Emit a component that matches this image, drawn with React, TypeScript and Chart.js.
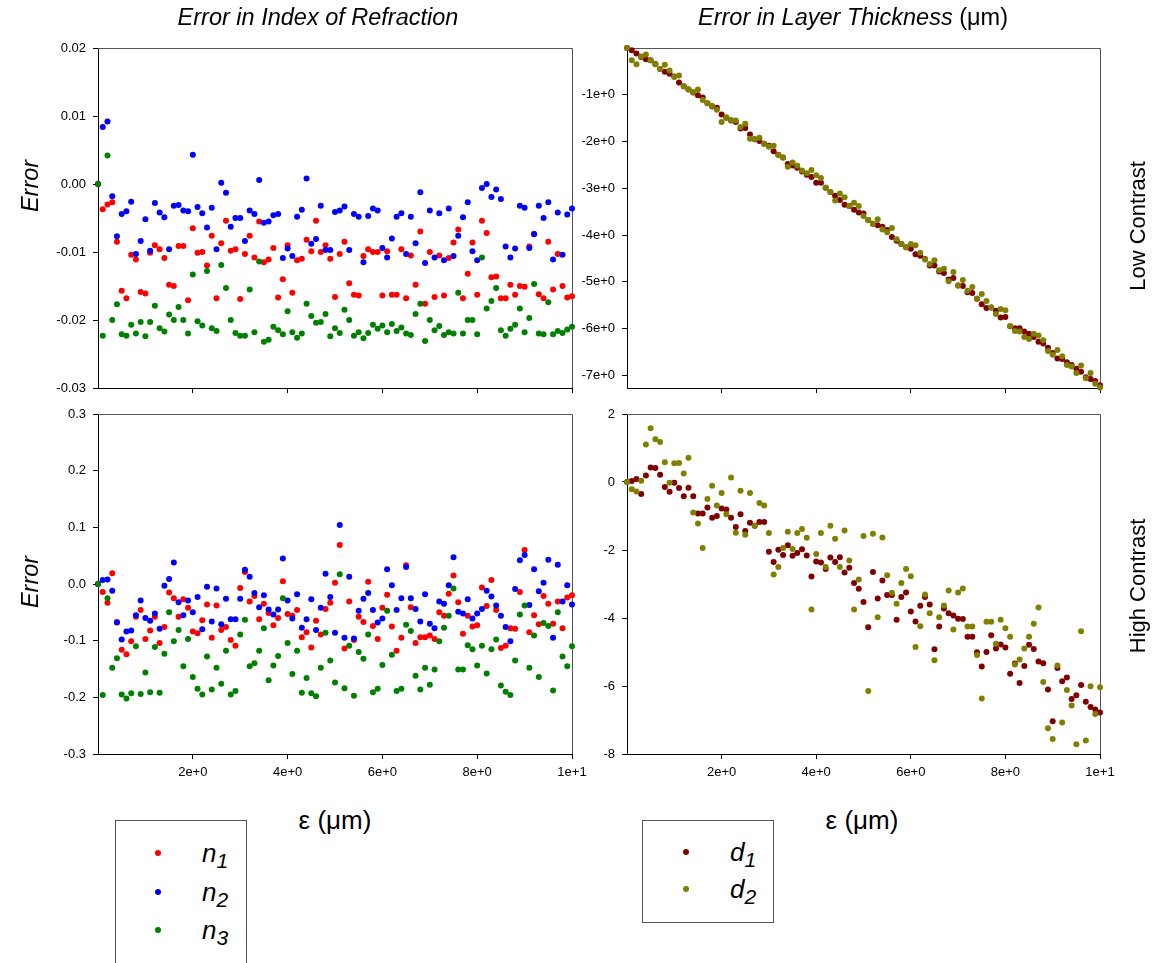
import React, { useEffect, useRef } from "react";
import { Chart, registerables } from "chart.js";

Chart.register(...registerables);

// ε (µm) grid
const EPS = [
  0, 0.1, 0.2, 0.3, 0.4, 0.5, 0.6, 0.7, 0.8, 0.9,
  1, 1.1, 1.2, 1.3, 1.4, 1.5, 1.6, 1.7, 1.8, 1.9,
  2, 2.1, 2.2, 2.3, 2.4, 2.5, 2.6, 2.7, 2.8, 2.9,
  3, 3.1, 3.2, 3.3, 3.4, 3.5, 3.6, 3.7, 3.8, 3.9,
  4, 4.1, 4.2, 4.3, 4.4, 4.5, 4.6, 4.7, 4.8, 4.9,
  5, 5.1, 5.2, 5.3, 5.4, 5.5, 5.6, 5.7, 5.8, 5.9,
  6, 6.1, 6.2, 6.3, 6.4, 6.5, 6.6, 6.7, 6.8, 6.9,
  7, 7.1, 7.2, 7.3, 7.4, 7.5, 7.6, 7.7, 7.8, 7.9,
  8, 8.1, 8.2, 8.3, 8.4, 8.5, 8.6, 8.7, 8.8, 8.9,
  9, 9.1, 9.2, 9.3, 9.4, 9.5, 9.6, 9.7, 9.8, 9.9,
  10,
];

// Low contrast – index of refraction error
const lowN1 = [
  0, -0.0037, -0.0030, -0.0027, -0.0085, -0.0157, -0.0168, -0.0104, -0.0111, -0.0159,
  -0.0161, -0.0101, -0.0090, -0.0096, -0.0109, -0.0148, -0.0150, -0.0091, -0.0091, -0.0171,
  -0.0065, -0.0101, -0.0100, -0.0120, -0.0076, -0.0168, -0.0087, -0.0054, -0.0098, -0.0096,
  -0.0169, -0.0103, -0.0076, -0.0108, -0.0055, -0.0115, -0.0111, -0.0094, -0.0167, -0.0140,
  -0.0090, -0.0160, -0.0112, -0.0110, -0.0082, -0.0099, -0.0054, -0.0100, -0.0090, -0.0110,
  -0.0166, -0.0103, -0.0085, -0.0146, -0.0163, -0.0164, -0.0106, -0.0096, -0.0100, -0.0100,
  -0.0164, -0.0099, -0.0163, -0.0163, -0.0096, -0.0168, -0.0105, -0.0148, -0.0070, -0.0176,
  -0.0100, -0.0166, -0.0105, -0.0164, -0.0109, -0.0086, -0.0067, -0.0168, -0.0132, -0.0086,
  -0.0163, -0.0054, -0.0072, -0.0137, -0.0136, -0.0168, -0.0168, -0.0148, -0.0163, -0.0150,
  -0.0151, -0.0092, -0.0073, -0.0162, -0.0168, -0.0085, -0.0155, -0.0103, -0.0150, -0.0167,
  -0.0165,
];
const lowN2 = [
  0, 0.0084, 0.0092, -0.0018, -0.0077, -0.0044, -0.0040, -0.0026, -0.0103, -0.0084,
  -0.0052, -0.0098, -0.0028, -0.0042, -0.0049, -0.0096, -0.0032, -0.0031, -0.0039, -0.0040,
  0.0043, -0.0034, -0.0043, -0.0064, -0.0035, -0.0096, 0.0002, -0.0013, -0.0063, -0.0050,
  -0.0050, -0.0084, -0.0039, -0.0044, 0.0006, -0.0057, -0.0055, -0.0046, -0.0044, -0.0109,
  -0.0095, -0.0106, -0.0048, -0.0038, 0.0008, -0.0088, -0.0081, -0.0032, -0.0097, -0.0097,
  -0.0041, -0.0039, -0.0033, -0.0097, -0.0044, -0.0048, -0.0115, -0.0047, -0.0036, -0.0039,
  -0.0094, -0.0108, -0.0080, -0.0048, -0.0043, -0.0103, -0.0048, -0.0087, -0.0012, -0.0116,
  -0.0039, -0.0108, -0.0043, -0.0112, -0.0036, -0.0106, -0.0076, -0.0049, -0.0027, -0.0099,
  -0.0112, -0.0006, 0.0000, -0.0019, -0.0008, -0.0022, -0.0092, -0.0108, -0.0095, -0.0032,
  -0.0035, -0.0094, -0.0074, -0.0032, -0.0050, -0.0027, -0.0111, -0.0042, -0.0104, -0.0045,
  -0.0036,
];
const lowN3 = [
  0, -0.0223, 0.0042, -0.0200, -0.0177, -0.0221, -0.0223, -0.0207, -0.0220, -0.0203,
  -0.0224, -0.0203, -0.0179, -0.0212, -0.0217, -0.0192, -0.0200, -0.0181, -0.0200, -0.0220,
  -0.0133, -0.0202, -0.0208, -0.0128, -0.0212, -0.0216, -0.0119, -0.0153, -0.0200, -0.0219,
  -0.0223, -0.0223, -0.0155, -0.0218, -0.0114, -0.0232, -0.0229, -0.0210, -0.0215, -0.0221,
  -0.0187, -0.0218, -0.0226, -0.0220, -0.0176, -0.0194, -0.0204, -0.0203, -0.0191, -0.0224,
  -0.0212, -0.0219, -0.0185, -0.0200, -0.0223, -0.0218, -0.0227, -0.0219, -0.0207, -0.0213,
  -0.0208, -0.0218, -0.0206, -0.0216, -0.0211, -0.0220, -0.0222, -0.0191, -0.0176, -0.0231,
  -0.0200, -0.0215, -0.0209, -0.0222, -0.0218, -0.0220, -0.0160, -0.0220, -0.0200, -0.0200,
  -0.0221, -0.0108, -0.0183, -0.0172, -0.0153, -0.0215, -0.0223, -0.0213, -0.0207, -0.0183,
  -0.0218, -0.0197, -0.0147, -0.0220, -0.0221, -0.0174, -0.0221, -0.0216, -0.0219, -0.0214,
  -0.0210,
];

// High contrast – index of refraction error
const highN1 = [
  0, -0.014, -0.033, 0.019, -0.067, -0.116, -0.124, -0.101, -0.058, -0.046,
  -0.097, -0.082, -0.058, -0.104, -0.076, -0.015, -0.025, -0.058, -0.027, -0.042,
  -0.084, -0.087, -0.064, -0.036, -0.095, -0.038, -0.081, -0.076, -0.099, -0.109,
  -0.007, 0.021, -0.031, -0.021, -0.062, -0.035, -0.051, -0.073, -0.060, 0.005,
  -0.053, -0.056, -0.046, -0.094, -0.085, -0.112, -0.065, -0.089, -0.044, -0.033,
  0.002, 0.069, -0.114, -0.031, -0.099, -0.058, -0.067, 0.004, -0.074, -0.097,
  -0.042, -0.019, -0.075, -0.118, -0.095, 0.033, -0.041, -0.104, -0.094, -0.094,
  -0.091, -0.097, -0.050, -0.056, -0.017, 0.015, -0.032, -0.088, -0.056, -0.075,
  -0.073, -0.006, -0.039, 0.007, -0.046, -0.113, -0.109, -0.078, -0.079, -0.014,
  0.060, -0.085, -0.055, -0.071, -0.021, -0.035, -0.070, -0.031, -0.078, -0.024,
  -0.020,
];
const highN2 = [
  0, 0.007, 0.008, -0.012, -0.068, -0.098, -0.084, -0.082, -0.055, -0.029,
  -0.060, -0.065, -0.052, -0.079, -0.003, 0.009, 0.038, -0.032, -0.055, -0.029,
  -0.050, -0.023, -0.080, -0.005, -0.066, -0.008, -0.071, -0.026, -0.062, -0.062,
  -0.026, 0.025, 0.013, -0.016, -0.041, -0.020, -0.045, -0.054, -0.045, 0.045,
  -0.029, -0.061, -0.018, -0.077, -0.062, -0.027, -0.081, -0.042, 0.018, -0.023,
  -0.086, 0.104, -0.095, 0.013, -0.096, -0.047, -0.026, -0.016, -0.046, -0.068,
  -0.061, 0.026, -0.002, -0.046, -0.025, 0.030, -0.025, -0.044, -0.066, -0.018,
  -0.070, -0.078, -0.031, -0.035, -0.002, 0.047, -0.049, -0.052, -0.027, -0.061,
  -0.052, -0.044, -0.012, -0.022, -0.038, -0.056, -0.076, -0.101, -0.009, 0.042,
  0.051, -0.037, 0.026, -0.013, 0.002, 0.043, -0.095, 0.034, -0.031, -0.002,
  -0.036,
];
const highN3 = [
  0, -0.196, -0.025, -0.148, -0.131, -0.195, -0.202, -0.193, -0.110, -0.194,
  -0.156, -0.191, -0.111, -0.192, -0.123, -0.050, -0.101, -0.081, -0.145, -0.097,
  -0.164, -0.185, -0.195, -0.128, -0.186, -0.148, -0.176, -0.118, -0.195, -0.189,
  -0.089, -0.063, -0.145, -0.140, -0.118, -0.078, -0.170, -0.144, -0.127, -0.025,
  -0.104, -0.159, -0.118, -0.192, -0.166, -0.193, -0.198, -0.148, -0.086, -0.135,
  -0.174, 0.017, -0.184, -0.109, -0.197, -0.120, -0.132, -0.089, -0.191, -0.185,
  -0.143, -0.047, -0.125, -0.189, -0.185, -0.072, -0.083, -0.162, -0.186, -0.148,
  -0.178, -0.151, -0.101, -0.077, -0.056, -0.008, -0.151, -0.151, -0.108, -0.115,
  -0.144, -0.109, -0.158, -0.115, -0.098, -0.179, -0.190, -0.196, -0.135, -0.054,
  -0.038, -0.148, -0.091, -0.164, -0.069, -0.074, -0.188, -0.050, -0.128, -0.145,
  -0.110,
];

// Low contrast – layer thickness error (µm)
const lowD1 = [
  0, -0.05, -0.12, -0.19, -0.24, -0.26, -0.34, -0.45, -0.51, -0.55,
  -0.61, -0.74, -0.82, -0.89, -0.95, -1.01, -1.06, -1.18, -1.25, -1.28,
  -1.42, -1.49, -1.55, -1.58, -1.72, -1.71, -1.85, -1.95, -1.99, -2.05,
  -2.09, -2.21, -2.28, -2.34, -2.48, -2.51, -2.56, -2.64, -2.71, -2.76,
  -2.88, -2.88, -2.99, -3.08, -3.16, -3.25, -3.35, -3.38, -3.46, -3.52,
  -3.54, -3.68, -3.76, -3.79, -3.82, -3.89, -4.04, -4.12, -4.19, -4.26,
  -4.29, -4.41, -4.44, -4.51, -4.65, -4.65, -4.78, -4.81, -4.95, -4.92,
  -5.08, -5.09, -5.22, -5.24, -5.36, -5.48, -5.56, -5.55, -5.62, -5.76,
  -5.75, -5.95, -5.99, -5.99, -6.06, -6.11, -6.18, -6.28, -6.32, -6.41,
  -6.52, -6.64, -6.65, -6.72, -6.78, -6.86, -6.92, -7.04, -7.08, -7.12,
  -7.21,
];
const lowD2 = [
  0, -0.26, -0.35, -0.18, -0.14, -0.26, -0.35, -0.45, -0.36, -0.48,
  -0.62, -0.59, -0.82, -0.88, -0.94, -0.89, -1.11, -1.18, -1.24, -1.32,
  -1.58, -1.48, -1.54, -1.55, -1.69, -1.62, -1.94, -1.95, -1.92, -2.05,
  -2.11, -2.09, -2.29, -2.34, -2.54, -2.45, -2.52, -2.62, -2.68, -2.61,
  -2.72, -2.78, -2.99, -3.08, -3.26, -3.11, -3.19, -3.38, -3.31, -3.38,
  -3.59, -3.68, -3.76, -3.66, -3.88, -3.94, -3.85, -4.09, -4.19, -4.26,
  -4.19, -4.22, -4.38, -4.52, -4.62, -4.54, -4.75, -4.72, -4.99, -4.79,
  -5.08, -4.96, -5.19, -5.11, -5.36, -5.26, -5.41, -5.55, -5.69, -5.58,
  -5.61, -5.95, -6.05, -6.06, -6.18, -6.22, -6.11, -6.15, -6.25, -6.48,
  -6.56, -6.46, -6.59, -6.78, -6.81, -6.95, -6.79, -7.06, -6.95, -7.18,
  -7.26,
];

// High contrast – layer thickness error (µm)
const highD1 = [
  0, 0.03, 0.09, -0.35, 0.19, 0.43, 0.41, 0.21, -0.15, -0.29,
  -0.02, -0.18, -0.42, -0.17, -0.42, -0.93, -0.93, -0.75, -1.05, -1.00,
  -0.78, -0.81, -1.05, -1.32, -0.95, -1.44, -1.20, -1.29, -1.18, -1.18,
  -2.05, -2.35, -1.99, -2.15, -1.86, -2.17, -2.09, -1.98, -2.16, -2.78,
  -2.34, -2.37, -2.56, -2.22, -2.35, -2.21, -2.66, -2.52, -2.97, -3.14,
  -3.53, -4.27, -2.65, -3.43, -2.90, -3.32, -3.32, -4.05, -3.38, -3.25,
  -3.81, -4.10, -3.64, -3.38, -3.60, -4.92, -4.25, -3.72, -3.86, -3.93,
  -4.02, -4.03, -4.55, -4.55, -5.01, -5.43, -5.00, -4.51, -4.90, -4.78,
  -4.87, -5.64, -5.34, -5.91, -5.41, -4.79, -4.91, -5.28, -5.33, -6.10,
  -7.04, -5.47, -5.86, -5.75, -6.38, -6.27, -5.97, -6.46, -6.62, -6.69,
  -6.78,
];
const highD2 = [
  0, -0.21, -0.28, 0.04, 1.10, 1.58, 1.26, 1.18, 0.58, -0.02,
  0.55, 0.56, 0.25, 0.71, -0.90, -1.22, -1.94, -0.50, -0.11, -0.69,
  -0.32, -0.95, 0.13, -1.49, -0.26, -1.55, -0.32, -1.29, -0.62, -0.69,
  -1.50, -2.72, -2.50, -1.94, -1.46, -1.97, -1.50, -1.38, -1.64, -3.75,
  -2.12, -1.50, -2.50, -1.29, -1.67, -2.50, -1.43, -2.31, -3.75, -2.87,
  -1.59, -6.15, -1.52, -3.98, -1.63, -2.74, -3.26, -3.58, -2.97, -2.56,
  -2.77, -4.85, -4.24, -3.31, -3.86, -5.24, -3.98, -3.63, -3.19, -4.34,
  -3.25, -3.13, -4.25, -4.25, -5.09, -6.37, -4.11, -4.11, -4.76, -4.05,
  -4.30, -4.55, -5.37, -5.22, -4.90, -4.55, -4.17, -3.69, -5.88, -7.24,
  -7.56, -5.40, -7.07, -6.12, -6.57, -7.71, -4.39, -7.60, -6.01, -6.82,
  -6.04,
];

// Tick values
const X_TICKS = [2, 4, 6, 8, 10];
const Y_TICKS_LOW_N = [-0.03, -0.02, -0.01, 0, 0.01, 0.02];
const Y_TICKS_HIGH_N = [-0.3, -0.2, -0.1, 0, 0.1, 0.2, 0.3];
const Y_TICKS_LOW_D = [-7, -6, -5, -4, -3, -2, -1];
const Y_TICKS_HIGH_D = [-8, -6, -4, -2, 0, 2];

const C_N1 = "#ff0000";
const C_N2 = "#0000ff";
const C_N3 = "#008000";
const C_D1 = "#800000";
const C_D2 = "#808000";

const FONT = '"Liberation Sans", Arial, Helvetica, sans-serif';

type Series = { data: number[]; color: string; order: number };
type PanelDef = {
  left: number;
  top: number;
  width: number;
  height: number;
  yMin: number;
  yMax: number;
  yTicks: number[];
  yFmt: (v: number) => string;
  showX: boolean;
  series: Series[];
};

const PAD_L = 70;
const PAD_T = 20;
const PAD_R = 24;
const PAD_B = 40;

const framePlugin = {
  id: "frameBox",
  beforeDatasetsDraw(chart: any) {
    const { ctx, chartArea: a } = chart;
    ctx.save();
    ctx.strokeStyle = "#555";
    ctx.lineWidth = 1;
    ctx.beginPath();
    ctx.moveTo(Math.round(a.left), Math.round(a.top) + 0.5);
    ctx.lineTo(Math.round(a.right) + 0.5, Math.round(a.top) + 0.5);
    ctx.lineTo(Math.round(a.right) + 0.5, Math.round(a.bottom));
    ctx.stroke();
    ctx.restore();
  },
};

function xLabel(v: number): string {
  if (v === 10) return "1e+1";
  return `${v}e+0`;
}

function ScatterPanel({ p }: { p: PanelDef }) {
  const ref = useRef<HTMLCanvasElement | null>(null);
  const cw = PAD_L + p.width + PAD_R;
  const ch = PAD_T + p.height + PAD_B;
  useEffect(() => {
    if (!ref.current) return;
    const axisGrid = {
      display: true,
      drawOnChartArea: false,
      drawTicks: true,
      tickLength: 5,
      color: "#000",
      lineWidth: 1,
    };
    const chart = new Chart(ref.current, {
      type: "scatter",
      data: {
        datasets: p.series.map((s) => ({
          data: EPS.map((x, i) => ({ x, y: s.data[i] })),
          backgroundColor: s.color,
          borderColor: s.color,
          borderWidth: 0,
          pointRadius: 3,
          pointHoverRadius: 3,
          order: s.order,
          clip: false as any,
        })),
      },
      options: {
        animation: false,
        responsive: false,
        maintainAspectRatio: false,
        events: [],
        layout: { padding: { top: PAD_T, right: PAD_R, left: 0, bottom: 0 } },
        plugins: {
          legend: { display: false },
          tooltip: { enabled: false },
          title: { display: false },
        },
        scales: {
          x: {
            type: "linear",
            min: 0,
            max: 10,
            afterBuildTicks: (s: any) => {
              s.ticks = X_TICKS.map((v) => ({ value: v }));
            },
            afterFit: (s: any) => {
              s.height = PAD_B;
            },
            grid: axisGrid,
            border: { display: true, color: "#000", width: 1 },
            ticks: {
              display: p.showX,
              callback: (v: any) => xLabel(Number(v)),
              color: "#000",
              font: { family: FONT, size: 13 },
              padding: 6,
              maxRotation: 0,
              autoSkip: false,
            },
          },
          y: {
            type: "linear",
            min: p.yMin,
            max: p.yMax,
            afterBuildTicks: (s: any) => {
              s.ticks = p.yTicks.map((v) => ({ value: v }));
            },
            afterFit: (s: any) => {
              s.width = PAD_L;
            },
            grid: axisGrid,
            border: { display: true, color: "#000", width: 1 },
            ticks: {
              callback: (v: any) => p.yFmt(Number(v)),
              color: "#000",
              font: { family: FONT, size: 13 },
              padding: 7,
              autoSkip: false,
            },
          },
        },
      } as any,
      plugins: [framePlugin],
    });
    return () => chart.destroy();
  }, []);
  return (
    <canvas
      ref={ref}
      width={cw}
      height={ch}
      style={{
        position: "absolute",
        left: p.left - PAD_L,
        top: p.top - PAD_T,
        width: cw,
        height: ch,
      }}
    />
  );
}

const PANELS: PanelDef[] = [
  {
    left: 98, top: 48, width: 474, height: 340,
    yMin: -0.03, yMax: 0.02, yTicks: Y_TICKS_LOW_N,
    yFmt: (v) => v.toFixed(2), showX: false,
    series: [
      { data: lowN1, color: C_N1, order: 3 },
      { data: lowN2, color: C_N2, order: 2 },
      { data: lowN3, color: C_N3, order: 1 },
    ],
  },
  {
    left: 627, top: 48, width: 473, height: 340,
    yMin: -7.27, yMax: 0, yTicks: Y_TICKS_LOW_D,
    yFmt: (v) => `${v}e+0`, showX: false,
    series: [
      { data: lowD1, color: C_D1, order: 2 },
      { data: lowD2, color: C_D2, order: 1 },
    ],
  },
  {
    left: 98, top: 414, width: 474, height: 340,
    yMin: -0.3, yMax: 0.3, yTicks: Y_TICKS_HIGH_N,
    yFmt: (v) => v.toFixed(1), showX: true,
    series: [
      { data: highN1, color: C_N1, order: 3 },
      { data: highN2, color: C_N2, order: 2 },
      { data: highN3, color: C_N3, order: 1 },
    ],
  },
  {
    left: 627, top: 414, width: 473, height: 340,
    yMin: -8, yMax: 2, yTicks: Y_TICKS_HIGH_D,
    yFmt: (v) => String(v), showX: true,
    series: [
      { data: highD1, color: C_D1, order: 2 },
      { data: highD2, color: C_D2, order: 1 },
    ],
  },
];

function CText({
  x, y, size, italic, rotate, children,
}: {
  x: number; y: number; size: number; italic?: boolean; rotate?: boolean; children: any;
}) {
  return (
    <div
      style={{
        position: "absolute",
        left: x,
        top: y,
        transform: `translate(-50%, -50%)${rotate ? " rotate(-90deg)" : ""}`,
        fontFamily: FONT,
        fontSize: size,
        fontStyle: italic ? "italic" : "normal",
        lineHeight: 1,
        whiteSpace: "nowrap",
        color: "#000",
      }}
    >
      {children}
    </div>
  );
}

function LegendItem({
  dotX, dotY, textX, color, letter, sub,
}: {
  dotX: number; dotY: number; textX: number; color: string; letter: string; sub: string;
}) {
  const baseline = dotY + 9;
  return (
    <>
      <div
        style={{
          position: "absolute",
          left: dotX - 3,
          top: dotY - 3,
          width: 6,
          height: 6,
          borderRadius: 3,
          background: color,
        }}
      />
      <div
        style={{
          position: "absolute",
          left: textX,
          top: baseline - 22,
          fontFamily: FONT,
          fontSize: 26,
          lineHeight: "26px",
          fontStyle: "italic",
          whiteSpace: "nowrap",
          color: "#000",
        }}
      >
        {letter}
        <span style={{ fontSize: 21, position: "relative", top: 6 }}>{sub}</span>
      </div>
    </>
  );
}

export default function App() {
  return (
    <div
      style={{
        position: "absolute",
        left: 0,
        top: 0,
        width: 1153,
        height: 963,
        overflow: "hidden",
        background: "#fff",
      }}
    >
      {PANELS.map((p, i) => (
        <ScatterPanel key={i} p={p} />
      ))}

      <CText x={318} y={18} size={23.5} italic>
        Error in Index of Refraction
      </CText>
      <CText x={853} y={18} size={23.5}>
        <i>Error in Layer Thickness</i> (μm)
      </CText>

      <CText x={31} y={186} size={23.5} italic rotate>
        Error
      </CText>
      <CText x={31} y={582} size={23.5} italic rotate>
        Error
      </CText>

      <CText x={1138} y={226} size={22} rotate>
        Low Contrast
      </CText>
      <CText x={1138} y={586} size={22} rotate>
        High Contrast
      </CText>

      <CText x={335} y={820} size={26}>
        ε (μm)
      </CText>
      <CText x={862} y={820} size={26}>
        ε (μm)
      </CText>

      <div
        style={{
          position: "absolute",
          left: 115,
          top: 820,
          width: 130,
          height: 170,
          border: "1px solid #555",
        }}
      />
      <LegendItem dotX={158} dotY={853} textX={202} color={C_N1} letter="n" sub="1" />
      <LegendItem dotX={158} dotY={892} textX={202} color={C_N2} letter="n" sub="2" />
      <LegendItem dotX={158} dotY={930} textX={202} color={C_N3} letter="n" sub="3" />

      <div
        style={{
          position: "absolute",
          left: 642,
          top: 820,
          width: 130,
          height: 101,
          border: "1px solid #555",
        }}
      />
      <LegendItem dotX={686} dotY={852} textX={730} color={C_D1} letter="d" sub="1" />
      <LegendItem dotX={686} dotY={889} textX={730} color={C_D2} letter="d" sub="2" />
    </div>
  );
}
